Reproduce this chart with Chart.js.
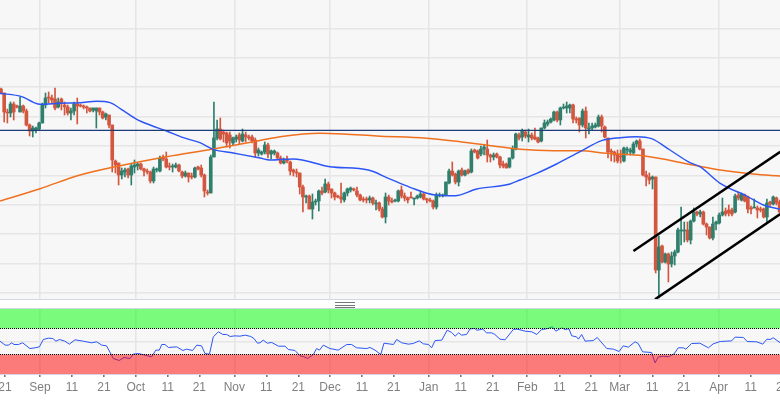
<!DOCTYPE html>
<html>
<head>
<meta charset="utf-8">
<script src="https://cdn.jsdelivr.net/npm/chart.js@4/dist/chart.umd.js"></script>
<style>
  html, body { margin: 0; padding: 0; background: #fff; overflow: hidden; }
  #page { position: relative; width: 780px; height: 400px; }
  #mainChart { position: absolute; left: 0; top: 0; background: #f7f7f7; }
  #rsiBack { position: absolute; left: 0; top: 309px; width: 780px; height: 65px; background: #f7f7f7; }
  #rsiChart { position: absolute; left: 0; top: 309px; }
  #divider { position: absolute; left: 0; top: 299px; width: 780px; height: 9px; background: #fff;
    border-top: 1px solid #d3d6e6; border-bottom: 1px solid #d3d6e6; box-sizing: content-box; height: 8px; }
  #grip { position: absolute; left: 335px; top: 2px; width: 20px; height: 4px;
    border-top: 1px solid #777; border-bottom: 1px solid #777; }
  #grip::after { content: ""; position: absolute; left: 0; right: 0; top: 1.5px; border-top: 1px solid #777; }
</style>
</head>
<body>
<div id="page">
  <canvas id="mainChart" width="780" height="299"></canvas>
  <div id="divider"><div id="grip"></div></div>
  <div id="rsiBack"></div>
  <canvas id="rsiChart" width="780" height="91"></canvas>
</div>
<script>
// candles, one per day, price in chart units (no price axis is visible in the picture)
const opens = [
  204,200,181,180,189,187,181,187,182,168, 162,163,164,170,188,196,195,194,186,194,
  188,186,180,182,189,188,187,186,185,183, 182,185,181,176,178,168,132,130,118,121,
  124,118,126,127,129,124,122,121,112,123, 122,136,134,127,126,126,128,121,117,120,
  117,116,126,125,118,101,100,136,155,164, 161,160,158,150,154,158,152,158,156,156,
  153,140,139,141,148,139,140,140,135,130, 134,131,123,121,120,106,96,97,84,91,
  92,102,101,109,104,100,97,96,93,100, 103,104,102,98,94,94,93,95,89,90,
  84,76,96,92,92,92,103,97,95,96, 94,95,96,99,94,93,92,86,97,97,
  98,110,122,119,111,123,118,123,121,143, 142,139,144,144,138,136,139,136,129,129,
  126,135,144,158,156,161,156,158,156,155, 152,165,169,171,173,181,173,185,185,185,
  188,174,175,168,182,165,165,166,167,176, 166,155,142,141,139,137,132,143,141,140,
  149,152,144,118,116,114,116,23,47,31, 39,29,37,41,62,62,63,53,72,81,
  79,81,69,66,55,69,70,78,82,83, 83,81,98,93,98,96,85,85,85,84,
  84,76,91,89,95,91
];
const highs = [
  205,200,184,191,191,188,196,188,184,169, 167,166,171,190,200,201,198,205,195,195,
  191,188,185,191,195,189,188,187,185,185, 185,185,182,180,178,168,133,130,125,125,
  125,129,133,130,130,125,124,122,126,125, 137,138,141,130,129,130,129,122,122,120,
  120,126,127,128,119,103,138,191,173,175, 163,161,161,156,158,160,164,161,158,158,
  155,145,142,151,150,143,143,141,137,135, 137,132,124,124,120,108,98,98,99,94,
  103,106,114,111,104,101,98,110,101,105, 106,105,106,99,96,96,97,96,93,91,
  86,100,98,95,94,103,107,100,96,101, 95,98,102,100,95,95,93,100,100,99,
  111,124,131,120,123,125,123,124,144,144, 143,147,148,153,139,140,140,137,132,130,
  135,147,160,160,164,163,164,160,165,156, 165,173,173,175,182,182,186,189,191,189,
  189,176,175,184,186,170,170,170,178,178, 167,155,144,142,143,143,146,146,145,151,
  153,154,144,122,120,117,116,57,48,40, 40,41,43,65,86,71,71,73,85,82,
  83,82,70,66,76,72,80,95,85,88, 85,99,101,100,99,97,87,94,87,86,
  85,94,92,97,96,93
];
const lows = [
  199,171,170,176,173,185,181,180,167,157, 156,160,163,170,185,190,189,183,185,183,
  178,178,173,178,169,186,184,180,181,181, 165,178,174,173,165,121,120,108,114,116,
  115,108,120,123,123,117,119,110,110,121, 121,132,125,123,121,125,121,115,116,111,
  114,115,123,116,96,98,100,136,153,153, 151,146,145,148,151,149,151,151,153,150,
  136,137,138,139,135,134,138,134,129,129, 130,118,117,116,99,81,90,84,74,88,
  82,98,100,100,95,93,95,90,91,97, 101,102,96,92,91,90,90,88,83,82,
  75,70,88,90,91,91,95,92,90,95, 88,94,95,93,90,91,84,84,96,96,
  97,109,117,109,107,117,117,119,120,140, 134,137,138,131,131,133,135,125,125,125,
  125,134,143,153,152,155,151,153,153,150, 151,164,167,170,172,171,168,184,180,180,
  170,170,161,166,155,159,163,165,166,161, 155,135,132,131,130,130,131,138,138,139,
  146,143,117,107,109,104,20,-5,30,30, 11,26,28,40,48,51,51,49,71,77,
  76,68,58,54,53,63,69,77,77,77, 77,80,93,92,91,80,79,85,75,81,
  75,71,86,88,88,80
];
const closes = [
  200,181,180,189,181,186,187,182,168,162, 165,165,170,188,195,195,193,185,191,190,
  186,180,182,189,187,187,186,185,182,185, 185,181,175,179,168,133,128,118,122,123,
  118,127,128,129,124,122,121,112,124,124, 135,134,126,126,127,128,122,117,120,116,
  116,125,124,118,102,100,136,155,164,154, 159,150,152,155,156,153,159,156,155,152,
  140,143,141,148,139,142,142,135,130,132, 132,122,121,120,106,96,97,84,91,92,
  102,100,109,103,100,96,96,94,100,104, 105,103,98,93,93,93,95,90,90,84,
  76,96,92,91,93,102,97,95,93,95, 95,97,99,94,93,92,86,98,98,98,
  111,122,118,111,122,118,122,120,142,141, 135,144,146,138,136,138,136,128,127,125,
  135,144,159,155,162,157,158,155,154,151, 165,170,171,174,181,173,185,186,187,188,
  174,173,168,182,165,165,167,168,176,167, 156,141,141,138,132,136,145,144,143,149,
  152,144,118,116,113,116,23,46,31,39, 29,37,41,63,63,63,53,72,81,79,
  81,69,66,55,69,71,78,81,79,80, 79,97,95,99,92,84,84,86,83,83,
  76,90,89,96,90,81
];

// moving averages, read at the places where the curves bend
const blueDays = [-0.3,6.5,10.2,12.3,18.6,24.9,30.1,34.3,38.5,42.7,46.9,52.1,57.4,62.6,66.8,73.1,81.5,84.6,92,103.5,115.6,121.9,128.7,136.6,142.9,149.7,160.2,163.3,168.6,174.8,182.2,189,194.8,200,204.7,210.5,216.8,219.9,226.3,234.6,239.9,245.2];
const blueValues = [199.7,196.3,190.7,188.7,189.7,190.3,191.7,190.3,182.3,173.7,168,162,155.3,150.3,143.7,140,135,133,134,126.3,123,114.7,105.7,98,97.3,104,109,113,119.7,129,141.3,152.3,155.3,156.3,154.3,143,130.3,126.3,109.7,97,88,83.7];
const orangeDays = [-0.3,12.3,24.9,37.5,52.1,66.8,81.5,87.8,95.1,100.4,107.7,118.2,133.9,144.4,154.9,163.3,173.8,182.2,190.6,202.1,217.8,226.3,236.7,245.2];
const orangeValues = [92,104.3,118,127.3,136.3,144,152.5,156.3,159,159.7,159,157,154.7,151.3,147,143.7,142.3,142.3,139.7,137.3,128,123,119,117];

// horizontal level and the two channel lines
const levelValue = 162.7;
const upperChannelDays = [199, 245.2];
const upperChannelValues = [42, 141.3];
const lowerChannelDays = [205.8, 245.2];
const lowerChannelValues = [-6.3, 79];

// RSI line
const rsiDays = [-0.3,1.3,2.3,3.4,4.1,5.5,6.8,9.1,10.7,12.1,13.3,14.9,16.3,17.3,18.4,20.1,21.5,23.3,25.9,28.5,30.1,31.7,33.2,34.8,35.3,37.2,38.7,40.6,41.6,43.2,45.3,47.4,48.7,49.8,50.6,51.6,52.7,55.3,57.2,58.4,60.3,61.6,63.1,64.2,65.6,66.8,68.4,69.8,71,72.1,73.6,75.2,76.8,78.6,79.6,80.7,81.5,
  82.5,83.8,85.2,87.3,89.4,90.4,92.5,94.1,95.1,96.5,98.3,99.3,100.2,101.4,103.5,106.1,108.8,110.3,111.9,115.1,116.1,117.7,119.5,120.5,123.5,124.5,126.1,128.2,129.7,131.6,132.9,134.5,135.5,136.6,138.7,140.4,141.8,142.9,144,144.9,146.5,147.6,149.1,149.7,151.6,152.8,154.4,155.4,157,158.6,161.2,162.3,163.3,
  164.9,167,168.6,170.1,171.7,173.5,174.6,176.4,177.5,178.7,179.6,181.1,181.7,182.7,183.8,186.4,187.6,190.6,192.7,194.5,195.8,197.4,199.5,200.5,201.9,204.7,205.8,206.8,208.4,210,211.8,213.1,214.7,215.5,217.3,219.9,222.6,224.1,226.3,229.9,231,233.6,234.8,237.8,239.7,241,242,243,245.2];
const rsiValues = [50.5,44.4,44.4,48,45.4,45.4,48,39.2,40.3,41.8,53.1,55.1,54.6,50.5,53.1,50.5,45.9,52.6,50.5,48,49.5,44.4,43.3,29,23.8,20.8,25.4,23.8,30.5,31.5,29,26.4,36.7,36.7,45.4,45.4,40.8,41.8,36.2,38.2,36.2,44.4,43.3,31.5,30.5,57.2,64.9,60.8,60.8,57.7,58.7,58.2,59.8,57.7,54.6,47.4,48,
  52.1,47.4,48.5,42.8,42.8,37.7,36.2,27.9,26.9,23.8,30,39.2,36.7,44.4,39.2,36.7,45.4,45.4,40.3,39.2,40.8,36.7,30,47.4,45.4,53.1,48,45.9,46.9,51,46.4,45.4,40.3,51.5,52.1,67.4,63.9,58.2,63.3,59.8,60.8,69.5,70,67.4,69,63.3,63.3,60.8,53.6,52.6,68.5,69,68,
  65.9,64.9,60.8,68.5,69.5,72.6,65.9,71,68.5,69.5,58.7,57.2,53.6,60.8,50.5,51.5,56.2,39.2,38.2,34.6,43.3,41.3,49.5,46.9,34.1,33.1,17.2,25.9,27.4,26.4,31,40.3,40.3,38.2,46.9,47.4,40.3,46.4,50,51,56.7,56.2,50,49.5,45.9,53.6,53.1,55.7,48];
const rsiOverbought = 70;
const rsiOversold = 30;

// time axis, positions counted in candles
const tickDays = [1.26,12.27,22.34,32.41,42.39,52.45,62.4,73.41,83.48,93.55,103.52,113.59,123.57,134.58,144.65,154.72,165.6,175.7,185.74,194.68,204.94,214.82,225.83,235.9,245.93];
const tickLabels = ["21","Sep","11","21","Oct","11","21","Nov","11","21","Dec","11","21","Jan","11","21","Feb","11","21","Mar","11","21","Apr","11","21"];

const GREEN = "#2f7f6c";
const RED = "#d3563f";
const GRID = "#e6e6e6";
const xMin = -0.315;
const xMax = 245.12;

const toPoints = (xs, ys) => xs.map((x, i) => ({ x: x, y: ys[i] }));
const candleColors = opens.map((o, i) => closes[i] >= o ? GREEN : RED);
const monthLine = (ctx) => isNaN(tickLabels[ctx.index]) ? GRID : "rgba(0,0,0,0)";
const dayTicks = (scale) => { scale.ticks = tickDays.map(d => ({ value: d })); };
const line = (points, color, width) => ({
  type: "line", data: points, borderColor: color, borderWidth: width,
  pointRadius: 0, tension: 0, fill: false
});
// moving averages are smooth curves
const curve = (points, color, width) => ({ ...line(points, color, width), cubicInterpolationMode: "monotone" });

new Chart(document.getElementById("mainChart"), {
  data: {
    datasets: [
      { type: "bar", order: 6, data: opens.map((o, i) => ({ x: i, y: [lows[i], highs[i]] })),
        backgroundColor: candleColors, barThickness: 1, grouped: false },
      { type: "bar", order: 5, data: opens.map((o, i) => ({ x: i, y: [o, closes[i]] })),
        backgroundColor: candleColors, barThickness: 3, grouped: false, minBarLength: 1 },
      { ...curve(toPoints(orangeDays, orangeValues), "#f0701e", 1.5), order: 4 },
      { ...curve(toPoints(blueDays, blueValues), "#2b55f5", 1.4), order: 3 },
      { ...line(toPoints([xMin, xMax], [levelValue, levelValue]), "#1d3b78", 1.3), order: 2 },
      { ...line(toPoints(upperChannelDays, upperChannelValues), "#000", 2.5), order: 1 },
      { ...line(toPoints(lowerChannelDays, lowerChannelValues), "#000", 2.5), order: 1 }
    ]
  },
  options: {
    responsive: false,
    animation: false,
    devicePixelRatio: 1,
    layout: { padding: 0, autoPadding: false },
    plugins: { legend: { display: false }, tooltip: { enabled: false } },
    scales: {
      x: {
        type: "linear", min: xMin, max: xMax, offset: false,
        afterBuildTicks: dayTicks,
        afterFit: (s) => { s.height = 0; s.paddingLeft = 0; s.paddingRight = 0; },
        ticks: { display: false },
        border: { display: false },
        grid: { color: monthLine, lineWidth: 1.6, drawTicks: false, offset: false }
      },
      y: {
        min: -6, max: 293,
        afterBuildTicks: (s) => { s.ticks = [0,1,2,3,4,5,6,7,8,9].map(k => ({ value: k * 29.4 })); },
        afterFit: (s) => { s.width = 0; },
        ticks: { display: false },
        border: { display: false },
        grid: { color: GRID, lineWidth: 1.6, drawTicks: false }
      }
    }
  }
});

const band = (value, fillTo, color) => ({
  type: "line", data: toPoints([xMin, xMax], [value, value]),
  borderColor: "#000", borderWidth: 1, borderDash: [1, 1],
  pointRadius: 0, fill: fillTo, backgroundColor: color
});

new Chart(document.getElementById("rsiChart"), {
  data: {
    datasets: [
      band(rsiOverbought, "end", "rgba(0,255,0,0.5)"),
      band(rsiOversold, "start", "rgba(255,0,0,0.5)"),
      line(toPoints(rsiDays, rsiValues), "#2b55f5", 1)
    ]
  },
  options: {
    responsive: false,
    animation: false,
    devicePixelRatio: 1,
    layout: { padding: 0, autoPadding: false },
    plugins: { legend: { display: false }, tooltip: { enabled: false } },
    scales: {
      x: {
        type: "linear", min: xMin, max: xMax,
        afterBuildTicks: dayTicks,
        afterFit: (s) => { s.height = 26; s.paddingLeft = 0; s.paddingRight = 0; },
        border: { color: "#d3d6e6" },
        grid: { color: monthLine, lineWidth: 1.6, tickLength: 3, tickColor: "#777" },
        ticks: {
          autoSkip: false, maxRotation: 0, padding: 3, color: "#7f7f7f",
          font: { family: "'Liberation Sans', Arial", size: 12 },
          callback: (v, i) => tickLabels[i]
        }
      },
      y: {
        min: 0, max: 100,
        afterBuildTicks: (s) => { s.ticks = [{ value: 50 }]; },
        afterFit: (s) => { s.width = 0; },
        ticks: { display: false },
        border: { display: false },
        grid: { color: GRID, lineWidth: 1.6, drawTicks: false }
      }
    }
  }
});
</script>
</body>
</html>
